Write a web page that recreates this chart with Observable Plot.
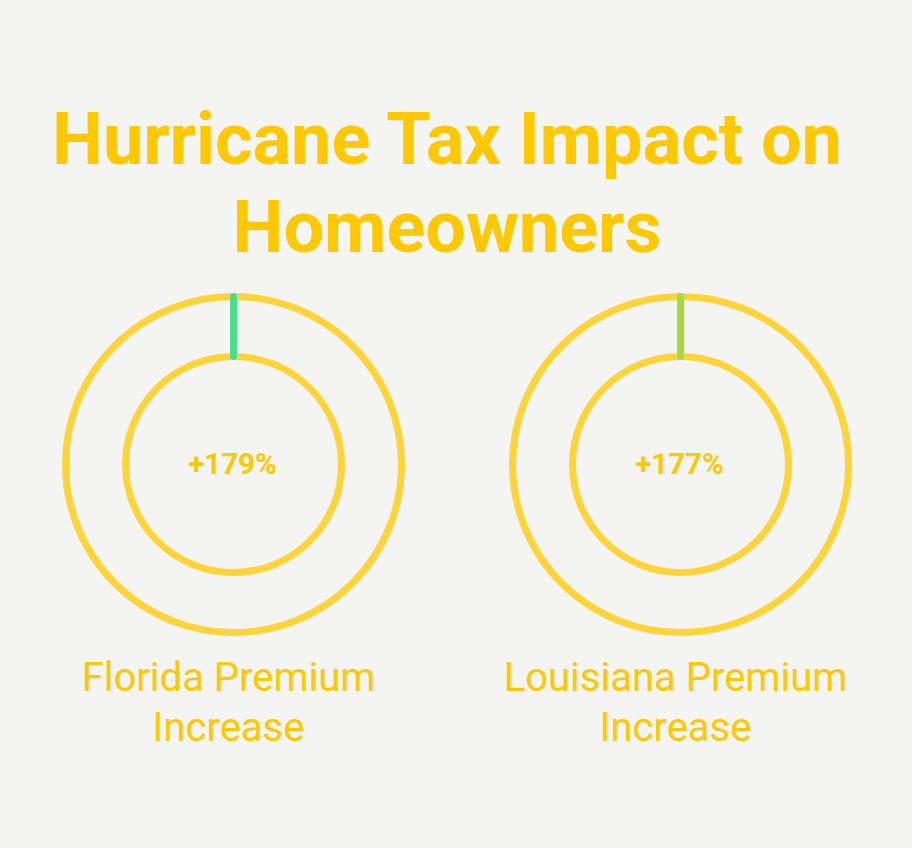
<!DOCTYPE html>
<html>
<head>
<meta charset="utf-8">
<script src="https://cdn.jsdelivr.net/npm/d3@7"></script>
<script src="https://cdn.jsdelivr.net/npm/@observablehq/plot@0.6"></script>
<style>
  html, body { margin: 0; padding: 0; background: #F4F4F2; }
  #wrap { width: 912px; height: 848px; overflow: hidden; }
  h1 {
    margin: 0;
    padding: 96px 18px 0 0;
    font: 700 72px/88px Roboto, sans-serif;
    color: #FFC800;
    text-align: center;
  }
  svg { display: block; }
</style>
</head>
<body>
<div id="wrap">
  <h1>Hurricane Tax Impact on<br>Homeowners</h1>
  <div id="chart"></div>
</div>
<script>
// Premium increases by state
const states = ["Florida", "Louisiana"];
const increases = [179, 177];
const accents = ["#4ADE8C", "#A6DA3A"];
const captions = ["Florida Premium\nIncrease", "Louisiana Premium\nIncrease"];

const ringColor = "#FFD43B";
const textColor = "#FFC800";
const outerR = 168;
const innerR = 108;

const rows = states.map((s, i) => ({
  state: s,
  increase: increases[i],
  accent: accents[i],
  caption: captions[i]
}));

// Radial tick joining the inner and outer ring at 12 o'clock
const radialTick = {
  draw(context) {
    context.moveTo(0, -outerR);
    context.lineTo(0, -innerR);
  }
};

const chart = Plot.plot({
  width: 912,
  height: 576,
  margin: 0,
  marginBottom: 192,
  x: {type: "point", domain: states, padding: 0.518, axis: null},
  style: {background: "transparent", fontFamily: "Roboto, sans-serif", overflow: "visible"},
  marks: [
    Plot.dot(rows, {x: "state", r: outerR, fill: "none", stroke: ringColor, strokeWidth: 7}),
    Plot.dot(rows, {x: "state", r: innerR, fill: "none", stroke: ringColor, strokeWidth: 7}),
    Plot.dot(rows, {x: "state", symbol: radialTick, r: 10, fill: "none", stroke: "accent", strokeWidth: 7, strokeLinecap: "round"}),
    Plot.text(rows, {x: "state", text: d => `+${d.increase}%`, dx: -1, fontSize: 29.5, fontWeight: 700, fill: textColor}),
    Plot.text(rows, {x: "state", text: "caption", frameAnchor: "bottom", lineAnchor: "top", dy: -1, dx: -5, fontSize: 40, lineHeight: 1.25, fill: textColor})
  ]
});
document.getElementById("chart").append(chart);
</script>
</body>
</html>
